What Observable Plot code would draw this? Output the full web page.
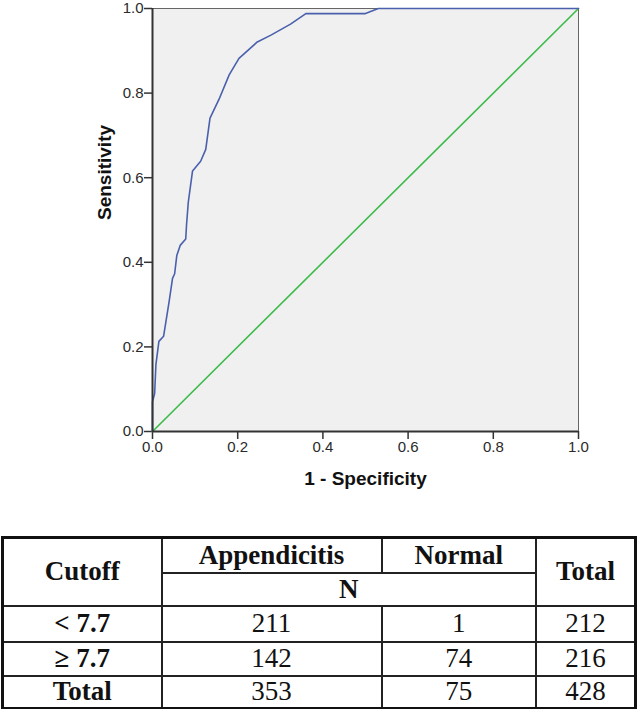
<!DOCTYPE html>
<html>
<head>
<meta charset="utf-8">
<script src="https://cdn.jsdelivr.net/npm/d3@7"></script>
<script src="https://cdn.jsdelivr.net/npm/@observablehq/plot@0.6"></script>
<style>
  html, body { margin: 0; padding: 0; background: #fff; }
  #chart { position: absolute; left: 0; top: 0; }
  table {
    position: absolute; left: 1px; top: 536px; width: 636px;
    border-collapse: collapse; border: 3px solid #111;
    font-family: "Liberation Serif", "Times New Roman", serif; font-size: 27px; color: #111;
  }
  td, th { border: 2px solid #222; text-align: center; vertical-align: middle; padding: 0; line-height: 1; }
  th { font-weight: bold; }
  td.lab { font-weight: bold; }
</style>
</head>
<body>
<div id="chart"></div>
<table id="tbl"></table>
<script>
// ROC curve
const fpr = [0, 0, 0.005, 0.008, 0.015, 0.026, 0.039, 0.047, 0.052, 0.057, 0.065, 0.078, 0.08, 0.084, 0.094, 0.113, 0.125, 0.135, 0.156, 0.18, 0.203, 0.246, 0.278, 0.324, 0.36, 0.5, 0.53, 1.0];
const tpr = [0, 0.07, 0.09, 0.158, 0.213, 0.225, 0.307, 0.362, 0.373, 0.416, 0.44, 0.455, 0.49, 0.542, 0.616, 0.639, 0.667, 0.741, 0.785, 0.843, 0.882, 0.921, 0.937, 0.963, 0.988, 0.988, 1.0, 1.0];
// Reference line
const refX = [0, 1];
const refY = [0, 1];
const tickValues = [0, 0.2, 0.4, 0.6, 0.8, 1.0];
const xLabel = "1 - Specificity";
const yLabel = "Sensitivity";

// Table
const colHeaders = ["Cutoff", "Appendicitis", "Normal", "Total"];
const subHeader = "N";
const rowLabels = ["< 7.7", "≥ 7.7", "Total"];
const appendicitis = [211, 142, 353];
const normal = [1, 74, 75];
const totals = [212, 216, 428];

const roc = fpr.map((x, i) => ({x, y: tpr[i]}));
const ref = refX.map((x, i) => ({x, y: refY[i]}));
const fmt = d3.format(".1f");

const chart = Plot.plot({
  width: 642,
  height: 520,
  marginLeft: 152,
  marginRight: 64,
  marginTop: 8,
  marginBottom: 89,
  style: {fontFamily: "'Liberation Sans', Arial, sans-serif", fontSize: "15px", color: "#2a2a2a", background: "transparent"},
  x: {domain: [0, 1]},
  y: {domain: [0, 1]},
  marks: [
    Plot.frame({fill: "#f0f0f0", stroke: "#666", strokeWidth: 1}),
    Plot.axisX(tickValues, {tickFormat: fmt, tickSize: 8, tickPadding: 2, fontSize: 15, stroke: "#333", strokeWidth: 1.5, fill: "#2a2a2a", label: null}),
    Plot.axisY(tickValues, {tickFormat: fmt, tickSize: 8, tickPadding: 1, fontSize: 15, stroke: "#333", strokeWidth: 1.5, fill: "#2a2a2a", label: null}),
    Plot.line(ref, {x: "x", y: "y", stroke: "#3dbb4a", strokeWidth: 1.6}),
    Plot.line(roc, {x: "x", y: "y", stroke: "#4a60ad", strokeWidth: 1.6}),
    Plot.ruleX([0], {stroke: "#333", strokeWidth: 2}),
    Plot.ruleY([0], {stroke: "#333", strokeWidth: 2}),
    Plot.text([xLabel], {frameAnchor: "bottom", dy: 53, fontWeight: "bold", fontSize: 19, fill: "#111"}),
    Plot.text([yLabel], {frameAnchor: "left", dx: -48, rotate: -90, fontWeight: "bold", fontSize: 19, fill: "#111"})
  ]
});
document.getElementById("chart").appendChild(chart);

// Build table
const tbl = document.getElementById("tbl");
const heights = [35, 33, 36, 34, 33];
let html = "<colgroup><col style='width:160px'><col style='width:221px'><col style='width:155px'><col style='width:100px'></colgroup>";
html += `<tr style="height:${heights[0]}px"><th rowspan="2">${colHeaders[0]}</th><th>${colHeaders[1]}</th><th>${colHeaders[2]}</th><th rowspan="2">${colHeaders[3]}</th></tr>`;
html += `<tr style="height:${heights[1]}px"><th colspan="2">${subHeader}</th></tr>`;
rowLabels.forEach((r, i) => {
  html += `<tr style="height:${heights[i + 2]}px"><td class="lab">${r}</td><td>${appendicitis[i]}</td><td>${normal[i]}</td><td>${totals[i]}</td></tr>`;
});
tbl.innerHTML = html;
</script>
</body>
</html>
